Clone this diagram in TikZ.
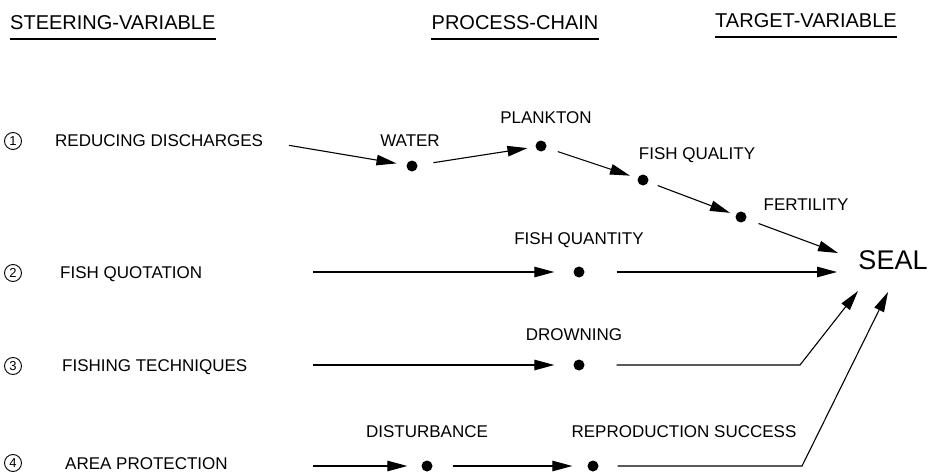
\documentclass[tikz,border=0pt]{standalone}
\usepackage{fontspec}
\setmainfont{Liberation Sans}
\usetikzlibrary{arrows.meta,positioning,calc}

\begin{document}
\begin{tikzpicture}[x=1pt, y=-1pt,
    every node/.style={font=\fontsize{17}{20}\selectfont, inner sep=0pt, text depth=0pt},
    head/.style={font=\fontsize{20}{24}\selectfont},
    num/.style={circle, draw, line width=0.9pt, minimum size=17pt, font=\fontsize{13}{14}\selectfont},
    dot/.style={circle, fill, minimum size=11pt},
    link/.style={line width=1.1pt, -{Triangle[length=20pt,width=10.5pt]}},
    rule/.style={line width=2pt}]
\useasboundingbox (0,0) rectangle (931,476);

% Headings
\node[head, anchor=west] (steer) at (10,23) {STEERING-VARIABLE};
\node[head] (chain) at (515,23) {PROCESS-CHAIN};
\node[head] (target) at (806,21) {TARGET-VARIABLE};
\foreach \h in {steer, chain, target} {
    \draw[rule] ([yshift=-9pt]\h.south west) -- ([yshift=-9pt]\h.south east);
}

% Steering variables
\node[num] (n1) at (13,141) {1};
\node[num] (n2) at (13,273) {2};
\node[num] (n3) at (13,366) {3};
\node[num] (n4) at (13,463) {4};
\node[anchor=west] (sv1) at (55,141) {REDUCING DISCHARGES};
\node[anchor=west] (sv2) at (60,273) {FISH QUOTATION};
\node[anchor=west] (sv3) at (62,366) {FISHING TECHNIQUES};
\node[anchor=west] (sv4) at (65,464) {AREA PROTECTION};

% Process chain
\node[dot] (water) at (412,166) {};
\node[dot] (plankton) at (541,146) {};
\node[dot] (quality) at (643,180) {};
\node[dot] (fertility) at (741,217) {};
\node[dot] (quantity) at (579,272) {};
\node[dot] (drowning) at (579,365) {};
\node[dot] (disturb) at (427,466) {};
\node[dot] (repro) at (593,466) {};

\node at (410,141) {WATER};
\node at (546,118) {PLANKTON};
\node at (697,154) {FISH QUALITY};
\node at (806,205) {FERTILITY};
\node at (579,239) {FISH QUANTITY};
\node at (574,335) {DROWNING};
\node at (427,432) {DISTURBANCE};
\node at (684,432) {REPRODUCTION SUCCESS};

% Target variable
\node[font=\fontsize{27}{30}\selectfont] (seal) at (893,260) {SEAL};

% Free ends
\coordinate (s2) at (313,272);
\coordinate (s3) at (313,365);
\coordinate (s4) at (313,466);
\coordinate (k3) at (800,365);
\coordinate (k4) at (802,466);
\coordinate (t1) at (838,253);
\coordinate (t2) at (837,272);
\coordinate (t3) at (858,291);
\coordinate (t4) at (888,292);

% Row 1
\draw[link, shorten <=26pt, shorten >=10pt] (sv1.east) -- (water);
\draw[link, shorten <=16pt, shorten >=8pt] (water) -- (plankton);
\draw[link, shorten <=12pt, shorten >=8pt] (plankton) -- (quality);
\draw[link, shorten <=10pt, shorten >=6pt] (quality) -- (fertility);
\draw[link, shorten <=13pt] (fertility) -- (t1);

% Row 2
\draw[link, shorten >=19pt] (s2) -- (quantity);
\draw[link, shorten <=32pt] (quantity) -- (t2);

% Row 3
\draw[link, shorten >=19pt] (s3) -- (drowning);
\draw[link, shorten <=32pt] (drowning) -- (k3) -- (t3);

% Row 4
\draw[link, shorten >=14pt] (s4) -- (disturb);
\draw[link, shorten <=20pt, shorten >=15pt] (disturb) -- (repro);
\draw[link, shorten <=19pt] (repro) -- (k4) -- (t4);
\end{tikzpicture}
\end{document}
